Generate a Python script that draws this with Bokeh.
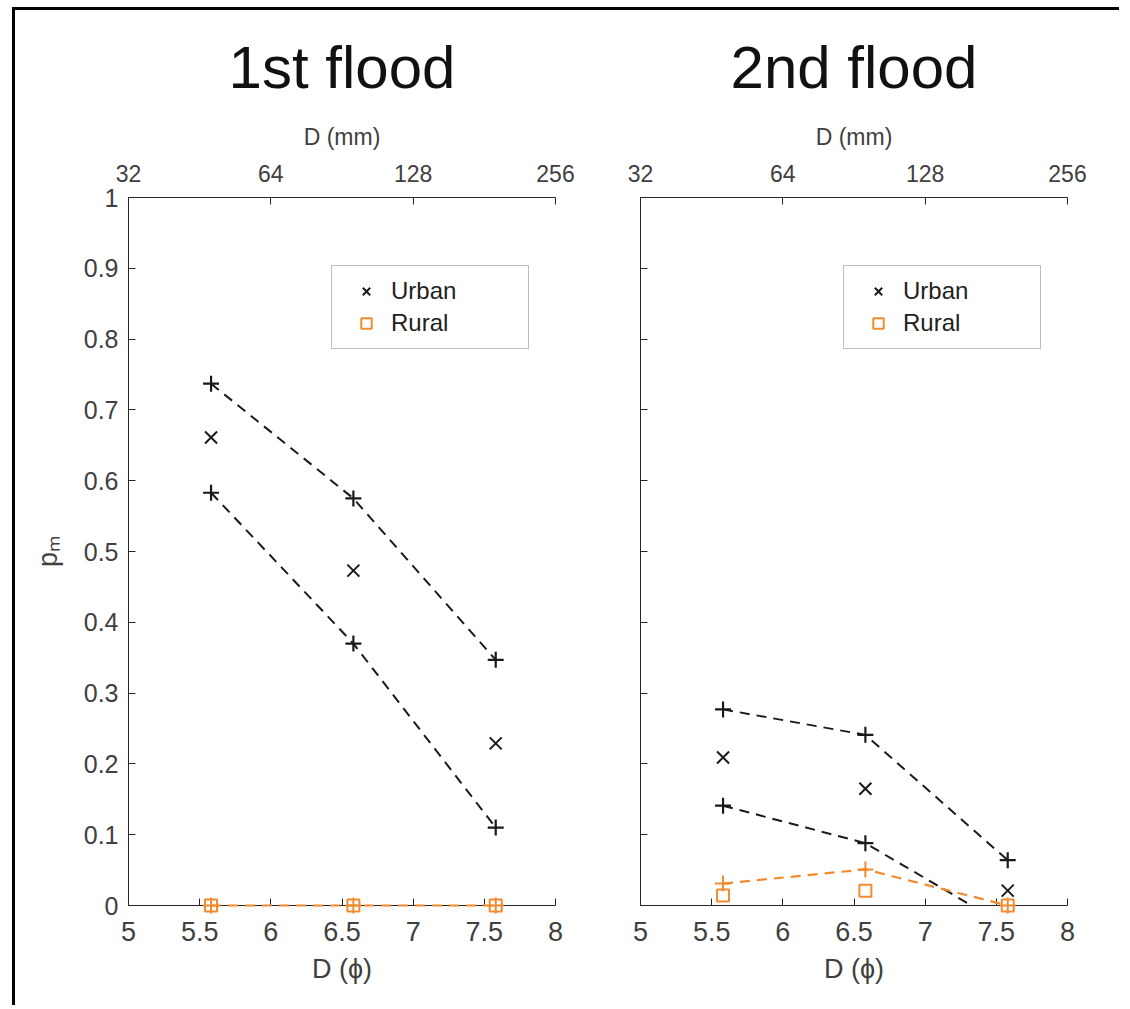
import math
from bokeh.plotting import figure
from bokeh.layouts import row
from bokeh.models import LinearAxis, FixedTicker, Legend, LegendItem, Range1d
from bokeh.embed import file_html
from bokeh.resources import INLINE

# ---------------- data ----------------
phi = [5.58, 6.58, 7.58]                 # grain size class centres, D (phi)

# 1st flood
urban_1 = [0.661, 0.473, 0.229]
urban_hi_1 = [0.737, 0.575, 0.347]
urban_lo_1 = [0.583, 0.370, 0.110]
rural_1 = [0.0, 0.0, 0.0]
rural_hi_1 = [0.0, 0.0, 0.0]

# 2nd flood
urban_2 = [0.209, 0.165, 0.021]
urban_hi_2 = [0.277, 0.241, 0.064]
urban_lo_2 = [0.141, 0.088, -0.030]
rural_2 = [0.014, 0.021, 0.0]
rural_hi_2 = [0.031, 0.051, 0.0]

phi_ticks = [5, 5.5, 6, 6.5, 7, 7.5, 8]
phi_tick_labels = ["5", "5.5", "6", "6.5", "7", "7.5", "8"]
mm_ticks = [32, 64, 128, 256]
p_ticks = [0, 0.1, 0.2, 0.3, 0.4, 0.5, 0.6, 0.7, 0.8, 0.9, 1]
p_tick_labels = ["0", "0.1", "0.2", "0.3", "0.4", "0.5", "0.6", "0.7", "0.8", "0.9", "1"]

titles = ["1st flood", "2nd flood"]

# ---------------- style ----------------
FONT = "Liberation Sans"
AX = "#262626"
LBL = "#404040"
ORANGE = "#F28A2E"
BLACK = "#1a1a1a"


def key(t):
    return int(t) if float(t).is_integer() else t


def style_axis(ax, ticks, labels, font_size):
    ax.ticker = FixedTicker(ticks=ticks)
    ax.major_label_overrides = {key(t): l for t, l in zip(ticks, labels)}
    ax.major_tick_in = 7
    ax.major_tick_out = 0
    ax.minor_tick_in = 0
    ax.minor_tick_out = 0
    ax.axis_line_color = AX
    ax.major_tick_line_color = AX
    ax.major_label_text_font = FONT
    ax.major_label_text_font_size = font_size
    ax.major_label_text_color = LBL
    ax.axis_label_text_font = FONT
    ax.axis_label_text_font_style = "normal"
    ax.axis_label_text_color = LBL


def make_panel(title, urban, hi, lo, rural, rural_hi, first, mb_left, mb_right):
    p = figure(frame_width=427, frame_height=708,
               x_range=Range1d(5, 8), y_range=Range1d(0, 1),
               output_backend="svg", toolbar_location=None,
               min_border_left=mb_left, min_border_right=mb_right,
               min_border_top=187, min_border_bottom=100,
               background_fill_color="white", border_fill_color="white",
               outline_line_color=None)
    p.grid.visible = False

    p.title.text = title
    p.title.align = "center"
    p.title.text_font = FONT
    p.title.text_font_size = "60px"
    p.title.text_font_style = "normal"
    p.title.text_color = "#111111"
    p.title.standoff = 40

    # bottom axis (phi)
    xb = p.xaxis[0]
    style_axis(xb, phi_ticks, phi_tick_labels, "27px")
    xb.axis_label = "D (ϕ)"
    xb.axis_label_text_font_size = "27px"
    xb.major_label_standoff = 16
    xb.axis_label_standoff = 10

    # top axis (mm)
    xt = LinearAxis()
    style_axis(xt, [math.log2(m) for m in mm_ticks], [str(m) for m in mm_ticks], "23px")
    xt.axis_label = "D (mm)"
    xt.axis_label_text_font_size = "23px"
    xt.major_label_standoff = 16
    xt.axis_label_standoff = 12
    p.add_layout(xt, "above")

    # left axis (p_m)
    yl = p.yaxis[0]
    if first:
        style_axis(yl, p_ticks, p_tick_labels, "25px")
        yl.axis_label = "pₘ"
        yl.axis_label_text_font_size = "27px"
        yl.major_label_standoff = 10
        yl.axis_label_standoff = 18
    else:
        style_axis(yl, p_ticks, [""] * len(p_ticks), "25px")

    dash = "10 7"
    p.line(phi, hi, line_dash=dash, line_width=2, line_color=BLACK)
    p.line(phi, lo, line_dash=dash, line_width=2, line_color=BLACK)
    p.line(phi, rural_hi, line_dash=dash, line_width=2.2, line_color=ORANGE, level="overlay")

    p.scatter(phi, hi, marker="cross", size=16, line_width=2.2, line_color=BLACK)
    p.scatter(phi, lo, marker="cross", size=16, line_width=2.2, line_color=BLACK)
    p.scatter(phi, rural_hi, marker="cross", size=16, line_width=2, line_color=ORANGE,
              level="overlay")
    r_u = p.scatter(phi, urban, marker="x", size=17, line_width=2, line_color=BLACK,
                    level="overlay")
    r_r = p.scatter(phi, rural, marker="square", size=12, line_width=2,
                    line_color=ORANGE, fill_color=None, level="overlay")

    leg = Legend(items=[LegendItem(label="Urban", renderers=[r_u]),
                        LegendItem(label="Rural", renderers=[r_r])],
                 location=(203, 556))
    leg.border_line_color = "#7f7f7f"
    leg.border_line_width = 1
    leg.background_fill_color = "white"
    leg.background_fill_alpha = 1
    leg.padding = 11
    leg.spacing = 4
    leg.margin = 0
    leg.label_height = 26
    leg.glyph_height = 26
    leg.glyph_width = 46
    leg.label_standoff = 2
    leg.label_width = 126
    leg.label_text_font = FONT
    leg.label_text_font_size = "24px"
    leg.label_text_color = "#222222"
    p.add_layout(leg)
    return p


p1 = make_panel(titles[0], urban_1, urban_hi_1, urban_lo_1, rural_1, rural_hi_1, True, 113, 35)
p2 = make_panel(titles[1], urban_2, urban_hi_2, urban_lo_2, rural_2, rural_hi_2, False, 50, 52)

layout = row(p1, p2, styles={"border-top": "3px solid black", "border-left": "3px solid black",
                             "margin-left": "12px", "margin-top": "7px"})

with open("out.html", "w") as f:
    f.write(file_html(layout, INLINE))
